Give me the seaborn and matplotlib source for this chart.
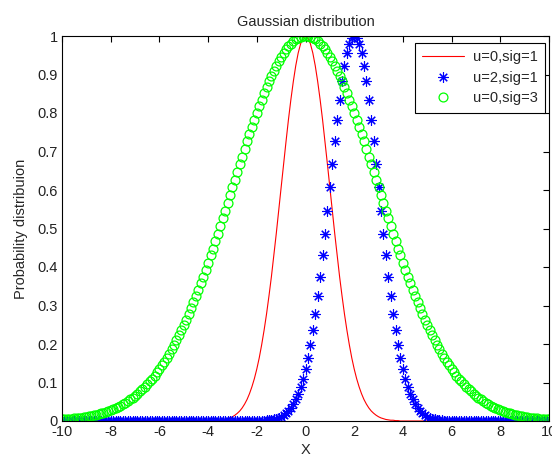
import numpy as np
import matplotlib
matplotlib.use("Agg")
import matplotlib.pyplot as plt
from matplotlib.ticker import FormatStrFormatter
import seaborn as sns
import pandas as pd

# ---- data ----
x_start, x_stop, n_points = -10, 10, 201
series_labels = ["u=0,sig=1", "u=2,sig=1", "u=0,sig=3"]

red_y = [
    0, 0, 0, 0, 0, 0, 0, 0, 0, 0,
    0, 0, 0, 0, 0, 0, 0, 0, 0, 0,
    0, 0, 0, 0, 0, 0, 0, 0, 0, 0,
    0, 0, 0, 0, 0, 0, 0, 0, 0, 0,
    0, 0, 0, 0, 0, 0, 0, 0, 0, 0,
    0, 0, 0, 0, 0, 0, 0, 0, 0, 0,
    0.000, 0.000, 0.001, 0.001, 0.002, 0.002, 0.003, 0.004, 0.006, 0.008,
    0.011, 0.015, 0.020, 0.026, 0.034, 0.044, 0.056, 0.071, 0.089, 0.110,
    0.135, 0.164, 0.198, 0.236, 0.278, 0.325, 0.375, 0.430, 0.487, 0.546,
    0.607, 0.667, 0.726, 0.783, 0.835, 0.882, 0.923, 0.956, 0.980, 0.995,
    1.000,
    0.995, 0.980, 0.956, 0.923, 0.882, 0.835, 0.783, 0.726, 0.667, 0.607,
    0.546, 0.487, 0.430, 0.375, 0.325, 0.278, 0.236, 0.198, 0.164, 0.135,
    0.110, 0.089, 0.071, 0.056, 0.044, 0.034, 0.026, 0.020, 0.015, 0.011,
    0.008, 0.006, 0.004, 0.003, 0.002, 0.002, 0.001, 0.001, 0.000, 0.000,
    0, 0, 0, 0, 0, 0, 0, 0, 0, 0,
    0, 0, 0, 0, 0, 0, 0, 0, 0, 0,
    0, 0, 0, 0, 0, 0, 0, 0, 0, 0,
    0, 0, 0, 0, 0, 0, 0, 0, 0, 0,
    0, 0, 0, 0, 0, 0, 0, 0, 0, 0,
    0, 0, 0, 0, 0, 0, 0, 0, 0, 0,
]

blue_y = [
    0, 0, 0, 0, 0, 0, 0, 0, 0, 0,
    0, 0, 0, 0, 0, 0, 0, 0, 0, 0,
    0, 0, 0, 0, 0, 0, 0, 0, 0, 0,
    0, 0, 0, 0, 0, 0, 0, 0, 0, 0,
    0, 0, 0, 0, 0, 0, 0, 0, 0, 0,
    0, 0, 0, 0, 0, 0, 0, 0, 0, 0,
    0, 0, 0, 0, 0, 0, 0, 0, 0, 0,
    0, 0, 0, 0, 0, 0, 0, 0, 0, 0,
    0.000, 0.000, 0.001, 0.001, 0.002, 0.002, 0.003, 0.004, 0.006, 0.008,
    0.011, 0.015, 0.020, 0.026, 0.034, 0.044, 0.056, 0.071, 0.089, 0.110,
    0.135, 0.164, 0.198, 0.236, 0.278, 0.325, 0.375, 0.430, 0.487, 0.546,
    0.607, 0.667, 0.726, 0.783, 0.835, 0.882, 0.923, 0.956, 0.980, 0.995,
    1.000,
    0.995, 0.980, 0.956, 0.923, 0.882, 0.835, 0.783, 0.726, 0.667, 0.607,
    0.546, 0.487, 0.430, 0.375, 0.325, 0.278, 0.236, 0.198, 0.164, 0.135,
    0.110, 0.089, 0.071, 0.056, 0.044, 0.034, 0.026, 0.020, 0.015, 0.011,
    0.008, 0.006, 0.004, 0.003, 0.002, 0.002, 0.001, 0.001, 0.000, 0.000,
    0, 0, 0, 0, 0, 0, 0, 0, 0, 0,
    0, 0, 0, 0, 0, 0, 0, 0, 0, 0,
    0, 0, 0, 0, 0, 0, 0, 0, 0, 0,
    0, 0, 0, 0, 0, 0, 0, 0, 0, 0,
]

green_y = [
    0.004, 0.004, 0.005, 0.005, 0.006, 0.007, 0.007, 0.008, 0.009, 0.010,
    0.011, 0.012, 0.014, 0.015, 0.016, 0.018, 0.020, 0.022, 0.024, 0.026,
    0.029, 0.031, 0.034, 0.037, 0.040, 0.044, 0.048, 0.052, 0.056, 0.061,
    0.066, 0.071, 0.077, 0.083, 0.089, 0.096, 0.103, 0.110, 0.118, 0.127,
    0.135, 0.145, 0.154, 0.164, 0.175, 0.186, 0.198, 0.210, 0.223, 0.236,
    0.249, 0.263, 0.278, 0.293, 0.309, 0.325, 0.341, 0.358, 0.375, 0.393,
    0.411, 0.430, 0.448, 0.467, 0.487, 0.506, 0.526, 0.546, 0.566, 0.586,
    0.607, 0.627, 0.647, 0.667, 0.687, 0.707, 0.726, 0.745, 0.764, 0.783,
    0.801, 0.818, 0.835, 0.852, 0.867, 0.882, 0.897, 0.910, 0.923, 0.935,
    0.946, 0.956, 0.965, 0.973, 0.980, 0.986, 0.991, 0.995, 0.998, 0.999,
    1.000,
    0.999, 0.998, 0.995, 0.991, 0.986, 0.980, 0.973, 0.965, 0.956, 0.946,
    0.935, 0.923, 0.910, 0.897, 0.882, 0.867, 0.852, 0.835, 0.818, 0.801,
    0.783, 0.764, 0.745, 0.726, 0.707, 0.687, 0.667, 0.647, 0.627, 0.607,
    0.586, 0.566, 0.546, 0.526, 0.506, 0.487, 0.467, 0.448, 0.430, 0.411,
    0.393, 0.375, 0.358, 0.341, 0.325, 0.309, 0.293, 0.278, 0.263, 0.249,
    0.236, 0.223, 0.210, 0.198, 0.186, 0.175, 0.164, 0.154, 0.145, 0.135,
    0.127, 0.118, 0.110, 0.103, 0.096, 0.089, 0.083, 0.077, 0.071, 0.066,
    0.061, 0.056, 0.052, 0.048, 0.044, 0.040, 0.037, 0.034, 0.031, 0.029,
    0.026, 0.024, 0.022, 0.020, 0.018, 0.016, 0.015, 0.014, 0.012, 0.011,
    0.010, 0.009, 0.008, 0.007, 0.007, 0.006, 0.005, 0.005, 0.004, 0.004,
]

x_ticks = [-10, -8, -6, -4, -2, 0, 2, 4, 6, 8, 10]
y_ticks = [0, 0.1, 0.2, 0.3, 0.4, 0.5, 0.6, 0.7, 0.8, 0.9, 1]

# ---- style ----
sns.set_style("white")
plt.rcParams["font.family"] = ["Liberation Sans", "DejaVu Sans"]
plt.rcParams["axes.unicode_minus"] = False
fs = 10.5

x = np.linspace(x_start, x_stop, n_points)
df = pd.DataFrame({"x": x, "red": red_y, "blue": blue_y, "green": green_y})

fig = plt.figure(figsize=(5.52, 4.58), dpi=100)
ax = fig.add_axes([62 / 552, 1 - 421 / 458, 487 / 552, 385 / 458])

sns.lineplot(data=df, x="x", y="red", ax=ax, color="#ff0000", linewidth=0.8,
             estimator=None, sort=False, label=series_labels[0])
sns.lineplot(data=df, x="x", y="blue", ax=ax, color="#0000ff", linestyle="none",
             marker=(8, 2, 0), markersize=7.5, markeredgewidth=0.8,
             markeredgecolor="#0000ff", estimator=None, sort=False,
             label=series_labels[1])
sns.lineplot(data=df, x="x", y="green", ax=ax, color="#00ff00", linestyle="none",
             marker="o", markersize=6.4, markerfacecolor="none",
             markeredgecolor="#00ff00", markeredgewidth=0.9, estimator=None,
             sort=False, label=series_labels[2])

ax.set_xlim(x_start, x_stop)
ax.set_ylim(0, 1)
ax.set_xticks(x_ticks)
ax.set_yticks(y_ticks)
ax.yaxis.set_major_formatter(FormatStrFormatter("%g"))
ax.xaxis.set_major_formatter(FormatStrFormatter("%g"))
ax.tick_params(direction="in", length=4, width=0.8, top=True, right=True,
               labelsize=fs, colors="#000000", pad=3, labelcolor="#222222")
for sp in ax.spines.values():
    sp.set_visible(True)
    sp.set_color("#000000")
    sp.set_linewidth(0.8)

ax.set_title("Gaussian distribution", fontsize=fs, pad=7)
ax.set_xlabel("X", fontsize=fs, labelpad=3)
ax.set_ylabel("Probability distribuion", fontsize=fs, labelpad=7)

leg = ax.legend(loc="upper right", bbox_to_anchor=((545 - 62) / 487, (421 - 43) / 385),
                borderaxespad=0, fancybox=False, framealpha=1, edgecolor="#000000",
                fontsize=fs, handlelength=2.9, handletextpad=0.6, borderpad=0.5,
                labelspacing=0.45, numpoints=1)
leg.get_frame().set_linewidth(0.8)

fig.savefig("out.png", dpi=100)
